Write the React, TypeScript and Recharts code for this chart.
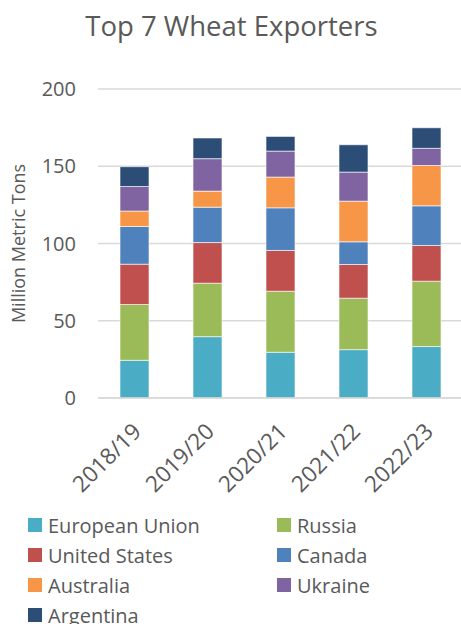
import React from "react";
import { BarChart, Bar, XAxis, YAxis, CartesianGrid, Legend } from "recharts";

const years = ["2018/19", "2019/20", "2020/21", "2021/22", "2022/23"];
const europeanUnion = [24.4, 39.7, 29.6, 31.3, 33.3];
const russia = [36.1, 34.6, 39.5, 33.3, 42.3];
const unitedStates = [26.1, 26.3, 26.4, 21.8, 23.1];
const canada = [24.4, 22.9, 27.6, 14.7, 25.7];
const australia = [10.0, 10.4, 19.9, 26.3, 26.1];
const ukraine = [15.9, 21.0, 16.8, 18.8, 11.1];
const argentina = [12.8, 13.4, 9.5, 17.7, 13.3];
const yTicks = [0, 50, 100, 150, 200];

const seriesNames = ["European Union", "Russia", "United States", "Canada", "Australia", "Ukraine", "Argentina"];
const seriesValues = [europeanUnion, russia, unitedStates, canada, australia, ukraine, argentina];
const seriesColors = ["#4BACC6", "#9BBB59", "#C0504D", "#4F81BD", "#F79646", "#8064A2", "#2C4D75"];

const data = years.map((y, i) => {
  const row: Record<string, string | number> = { year: y };
  seriesNames.forEach((n, k) => {
    row[n] = seriesValues[k][i];
  });
  return row;
});

const FONT = "'Open Sans', sans-serif";
const TEXT = "#595959";

const XTick = (props: any) => {
  const { x, y, payload } = props;
  return (
    <g transform={`translate(${x + 8},${y + 27})`}>
      <text textAnchor="end" transform="rotate(-45)" fill={TEXT} fontSize={22.5} fontFamily={FONT}>
        {payload.value}
      </text>
    </g>
  );
};

const LegendContent = (props: any) => {
  const items = [...(props.payload || [])].sort(
    (a: any, b: any) => seriesNames.indexOf(a.value) - seriesNames.indexOf(b.value)
  );
  return (
    <div style={{ height: 114, position: "relative", fontFamily: FONT, fontSize: 20, color: TEXT }}>
      {items.map((it: any, i: number) => {
        const col = i % 2;
        const row = Math.floor(i / 2);
        return (
          <div
            key={it.value}
            style={{
              position: "absolute",
              left: col === 0 ? 28 : 277,
              top: row * 30,
              height: 30,
              display: "flex",
              alignItems: "center",
              whiteSpace: "nowrap",
            }}
          >
            <span style={{ width: 14, height: 14, background: it.color, display: "inline-block", marginRight: 6 }} />
            <span>{it.value}</span>
          </div>
        );
      })}
    </div>
  );
};

export default function App() {
  return (
    <div style={{ position: "absolute", left: 0, top: 0, width: 470, height: 624, overflow: "visible" }}>
      <div
        style={{
          position: "absolute",
          left: 0,
          top: 8,
          width: 463,
          textAlign: "center",
          fontFamily: FONT,
          fontSize: 27.5,
          color: TEXT,
          lineHeight: "36px",
        }}
      >
        Top 7 Wheat Exporters
      </div>
      <BarChart
        width={470}
        height={624}
        data={data}
        margin={{ top: 89, right: 7, left: 0, bottom: 0 }}
        barSize={29}
      >
        <CartesianGrid vertical={false} stroke="#D9D9D9" strokeWidth={1.5} />
        <XAxis
          dataKey="year"
          height={112}
          axisLine={{ stroke: "#D9D9D9", strokeWidth: 1.5 }}
          tickLine={false}
          tick={<XTick />}
          interval={0}
        />
        <YAxis
          width={98}
          domain={[0, 200]}
          ticks={yTicks}
          axisLine={false}
          tickLine={false}
          tickSize={0}
          tickMargin={22}
          tick={{ fill: TEXT, fontSize: 20, fontFamily: FONT }}
          label={(p: any) => {
            const vb = p.viewBox || {};
            const cx = 18;
            const cy = (vb.y ?? 89) + (vb.height ?? 309) / 2;
            return (
              <text
                x={cx}
                y={cy}
                transform={`rotate(-90, ${cx}, ${cy})`}
                textAnchor="middle"
                dominantBaseline="central"
                fill={TEXT}
                fontSize={18}
                fontFamily={FONT}
              >
                Million Metric Tons
              </text>
            );
          }}
        />
        <Legend
          verticalAlign="bottom"
          content={<LegendContent />}
          wrapperStyle={{ left: 0, bottom: 0, width: 470, height: 114 }}
        />
        {seriesNames.map((n, k) => (
          <Bar
            key={n}
            dataKey={n}
            stackId="a"
            fill={seriesColors[k]}
            stroke="#FFFFFF"
            strokeWidth={0.6}
            isAnimationActive={false}
          />
        ))}
      </BarChart>
    </div>
  );
}
